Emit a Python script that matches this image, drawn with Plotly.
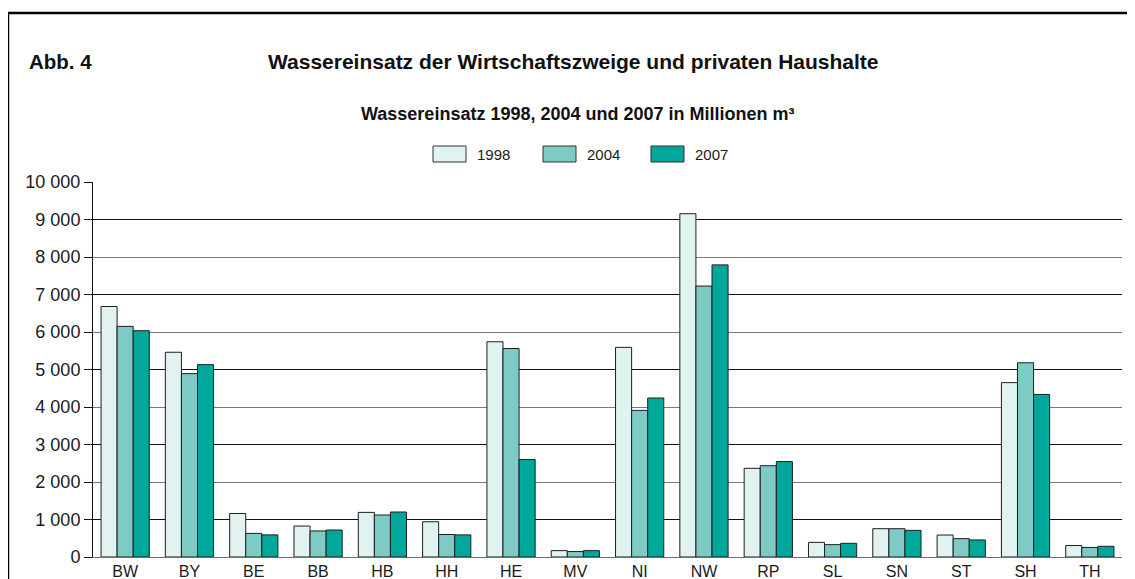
import plotly.graph_objects as go

# ---------------- data ----------------
states = ["BW", "BY", "BE", "BB", "HB", "HH", "HE", "MV",
          "NI", "NW", "RP", "SL", "SN", "ST", "SH", "TH"]
years = ["1998", "2004", "2007"]
v1998 = [6680, 5460, 1160, 825, 1190, 940, 5740, 170,
         5590, 9155, 2365, 390, 755, 585, 4650, 305]
v2004 = [6150, 4890, 630, 695, 1120, 600, 5560, 145,
         3910, 7225, 2435, 330, 755, 490, 5180, 255]
v2007 = [6035, 5130, 590, 720, 1200, 590, 2600, 170,
         4240, 7790, 2545, 365, 710, 455, 4335, 285]
series = [v1998, v2004, v2007]
colors = ["#e1f3f1", "#7ecbc6", "#00a89c"]
tick_vals = [0, 1000, 2000, 3000, 4000, 5000, 6000, 7000, 8000, 9000, 10000]
tick_text = ["0", "1 000", "2 000", "3 000", "4 000", "5 000",
             "6 000", "7 000", "8 000", "9 000", "10 000"]

title_left = "Abb. 4"
title_main = "Wassereinsatz der Wirtschaftszweige und privaten Haushalte"
subtitle = "Wassereinsatz 1998, 2004 und 2007 in Millionen m³"

# ---------------- layout geometry (page pixels; body has 8px margin) ----------------
OFF = 8
W, H = 1135 - OFF, 579 - OFF
L, R, T, B = 93, 1122, 182, 557          # plot area in page pixels
FONT = "Liberation Sans, Arial, sans-serif"


def px(x):
    return (x - L) / (R - L)


def py(y):
    return (B - y) / (B - T)


fig = go.Figure()
for name, vals, col in zip(years, series, colors):
    fig.add_trace(go.Bar(
        x=states, y=vals, name=name,
        marker=dict(color=col, line=dict(color="#1e1e1e", width=1)),
        showlegend=False,
    ))

odd_vals = [v for v in tick_vals if v % 2000 == 1000]
even_vals = [v for v in tick_vals if v % 2000 == 0]

# anchor traces so the overlay grid axes are drawn
for ax in ["y2", "y3"]:
    fig.add_trace(go.Scatter(x=[states[0]], y=[tick_vals[0]], yaxis=ax,
                             mode="markers", marker=dict(opacity=0, size=1),
                             hoverinfo="skip", showlegend=False))

fig.update_layout(
    width=W, height=H,
    margin=dict(l=L - OFF, r=(1135 - R), t=T - OFF, b=(579 - B), autoexpand=False),
    paper_bgcolor="white", plot_bgcolor="rgba(0,0,0,0)",
    barmode="group", bargap=0.25, bargroupgap=0,
    font=dict(family=FONT, color="#1a1a1a"),
    xaxis=dict(
        range=[-0.5, len(states) - 0.5],
        showline=True, linecolor="#6e6e6e", linewidth=1.3,
        ticks="", showgrid=False, automargin=False,
        tickfont=dict(size=16, color="#1a1a1a"),
    ),
    yaxis=dict(
        range=[0, 10000], tickvals=tick_vals, ticktext=tick_text,
        showgrid=False, zeroline=False,
        showline=True, linecolor="#111", linewidth=1,
        ticks="outside", ticklen=8, tickcolor="#111", tickwidth=1,
        tickfont=dict(size=18, color="#1a1a1a"), automargin=False,
    ),
    yaxis2=dict(
        overlaying="y", range=[0, 10000], tickvals=odd_vals,
        showgrid=True, gridcolor="#111", gridwidth=1,
        showticklabels=False, ticks="", zeroline=False, showline=False,
    ),
    yaxis3=dict(
        overlaying="y", range=[0, 10000], tickvals=even_vals,
        showgrid=True, gridcolor="#7a7a7a", gridwidth=1.3,
        showticklabels=False, ticks="", zeroline=False, showline=False,
    ),
)

# frame
fig.add_shape(type="rect", xref="paper", yref="paper",
              x0=px(8), x1=px(1250), y0=py(660), y1=py(13),
              line=dict(color="black", width=2.5), fillcolor="rgba(0,0,0,0)")

# titles
fig.add_annotation(text=f"<b>{title_left}</b>", xref="paper", yref="paper",
                   x=px(27), y=py(61), xanchor="left", yanchor="middle",
                   showarrow=False, font=dict(size=20.5, family=FONT, color="#111"))
fig.add_annotation(text=f"<b>{title_main}</b>", xref="paper", yref="paper",
                   x=px(573), y=py(61), xanchor="center", yanchor="middle",
                   showarrow=False, font=dict(size=21, family=FONT, color="#111"))
fig.add_annotation(text=f"<b>{subtitle}</b>", xref="paper", yref="paper",
                   x=px(578), y=py(114), xanchor="center", yanchor="middle",
                   showarrow=False, font=dict(size=18, family=FONT, color="#111"))

# custom legend
box_x = [433, 543, 651]
for bx, name, col in zip(box_x, years, colors):
    fig.add_shape(type="rect", xref="paper", yref="paper",
                  x0=px(bx), x1=px(bx + 33), y0=py(162), y1=py(146),
                  line=dict(color="#333", width=1), fillcolor=col)
    fig.add_annotation(text=name, xref="paper", yref="paper",
                       x=px(bx + 42), y=py(154), xanchor="left", yanchor="middle",
                       showarrow=False, font=dict(size=15, family=FONT, color="#1a1a1a"))

fig.write_html("out.html")
